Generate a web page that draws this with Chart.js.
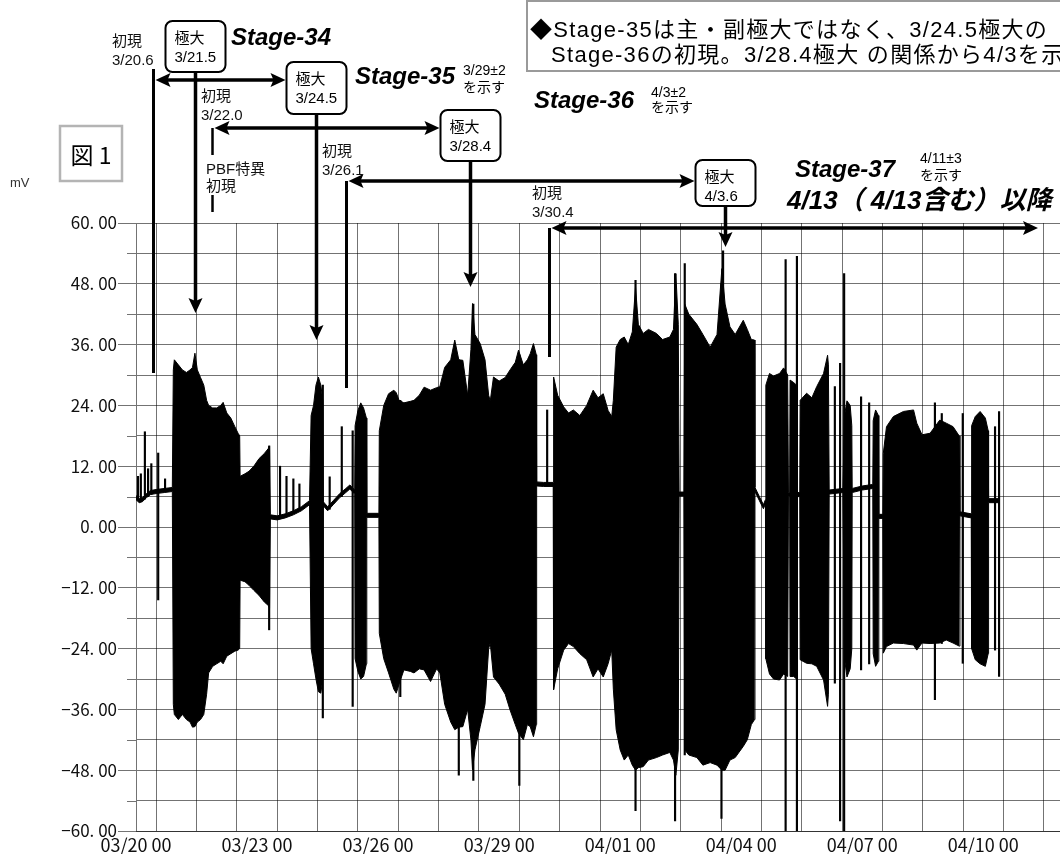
<!DOCTYPE html>
<html lang="ja">
<head>
  <meta charset="UTF-8" />
  <title>図1 Stage-34〜37</title>
  <script src="https://cdn.jsdelivr.net/npm/chart.js"></script>
  <style>
    html, body { margin: 0; padding: 0; background: #fff; }
    #wrap { width: 1060px; height: 854px; position: relative; }
  </style>
</head>
<body>
  <div id="wrap"><canvas id="chart"></canvas></div>

  <script>
    // 横軸は 03/20 00 からの経過日数、縦軸は mV
    // 信号の帯（上端・下端）
    const envDays = [
      0.00, 0.08, 0.16, 0.26, 0.36, 0.50, 0.70, 0.90,
      0.925, 0.95, 1.05, 1.15, 1.25, 1.34, 1.40, 1.46, 1.52, 1.60, 1.68, 1.75, 1.80, 1.90, 2.00, 2.10, 2.16, 2.25, 2.35, 2.45, 2.53, 2.57,
      2.58, 2.70, 2.80, 2.92, 3.05, 3.18, 3.28, 3.31,
      3.33, 3.50, 3.70, 3.90, 4.10, 4.30,
      4.34, 4.40, 4.46, 4.52, 4.58, 4.63,
      4.64, 4.75, 4.90, 5.05, 5.20, 5.30, 5.42,
      5.43, 5.50, 5.57, 5.64, 5.71,
      5.72, 6.02,
      6.03, 6.14, 6.26, 6.39, 6.45, 6.52, 6.64, 6.80, 6.89, 7.02, 7.14, 7.30, 7.45, 7.53, 7.65, 7.80, 7.90,
      8.00, 8.10, 8.22, 8.30, 8.34, 8.40, 8.53, 8.65, 8.74, 8.78, 8.86, 9.00, 9.15, 9.27, 9.40, 9.48, 9.60, 9.70, 9.77, 9.85, 9.92,
      9.93, 10.10, 10.34,
      10.35, 10.45, 10.60, 10.72, 10.84, 11.00, 11.17, 11.33, 11.45, 11.58, 11.70, 11.79, 11.83,
      11.90, 12.00, 12.10, 12.20, 12.30, 12.38, 12.45, 12.57, 12.70, 12.90, 13.05, 13.23, 13.32, 13.38, 13.44,
      13.46, 13.58,
      13.60, 13.70, 13.90, 14.05, 14.23, 14.40, 14.52, 14.60, 14.72, 14.85, 15.05, 15.15, 15.25, 15.33,
      15.34, 15.45, 15.55, 15.60,
      15.61, 15.70, 15.80, 15.95, 16.05, 16.15,
      16.17, 16.20,
      16.21, 16.30, 16.37,
      16.38, 16.45,
      16.46, 16.62, 16.75, 16.87, 17.04, 17.14, 17.16,
      17.18, 17.52,
      17.56, 17.62, 17.70, 17.74,
      17.75, 18.00, 18.26,
      18.27, 18.33, 18.40,
      18.41, 18.51,
      18.52, 18.60, 18.77, 19.02, 19.27, 19.35, 19.48, 19.68, 19.92, 20.08, 20.25, 20.40,
      20.42, 20.70,
      20.71, 20.80, 20.92, 21.05, 21.12,
      21.13, 21.39
    ];
    const envHigh = [
      6.2, 5.6, 5.8, 6.6, 7.2, 7.4, 7.6, 7.8,
      31, 33, 32, 31, 30.5, 31, 31.5, 34.3, 31, 29.5, 28, 25, 24, 23.5, 23.5, 24, 24.6, 22.5, 21.5, 19.8, 18.5, 18,
      10, 10.5, 11, 12, 13.5, 14.5, 15.5, 16,
      2.4, 2.2, 2.6, 3.2, 4.0, 5.2,
      22, 24, 28, 29.6, 28, 25,
      5.0, 4.0, 5.3, 6.6, 7.6, 8.3, 7.3,
      20, 23, 24.5, 23.5, 21.5,
      2.7, 2.7,
      19, 24, 26.3, 27, 26.5, 25, 24.5, 24.8, 25, 26, 27.6, 27, 27.5, 27.7, 31.5, 33, 36.9,
      33, 32.9, 26, 35, 44.1, 38, 36.2, 33, 26, 24.9, 29.6, 28.8, 29.5, 31, 32.5, 34.9, 32, 33, 34.2, 36.2, 34,
      8.9, 8.8, 8.8,
      29.6, 26, 23.7, 22.5, 23.1, 22, 24, 27, 25.5, 26.3, 23, 21.8, 25,
      35.5, 37, 37.5, 36, 38.5, 47.4, 40, 38.2, 39, 38.2, 37, 37.5, 39, 50, 40,
      6.9, 6.9,
      44, 42, 40, 38, 35.5, 38, 51, 44, 39.5, 38, 40.8, 39, 37, 36.9,
      7.8, 6.0, 4.4, 5.4,
      28, 30.3, 29.8, 30.3, 31.4, 30,
      6.8, 6.8,
      29, 28.5, 28,
      6.8, 6.8,
      25, 26.4, 25.5, 27.7, 30.3, 33.9, 32,
      7.3, 7.6,
      22, 24.9, 24, 20,
      7.6, 8.1, 8.4,
      21, 23.1, 22,
      2.5, 2.5,
      14.5, 19.8, 21.8, 22.8, 23.1, 20.5, 18.2, 18.5, 21.1, 20.5, 19.8, 18,
      3.0, 2.6,
      20, 21.8, 22.8, 21.5, 19,
      5.6, 5.6
    ];
    const envLow = [
      5.4, 4.8, 5.0, 5.8, 6.4, 6.6, 6.8, 7.0,
      -35, -37, -38, -37, -38, -38.5, -39.5, -39.4, -38.5, -38, -37, -33, -28.8, -27.5, -27, -26.5, -27, -25.5, -25, -24.5, -24.3, -24,
      -10.5, -10.8, -11.5, -12.5, -13.5, -14.8, -15.5, -16,
      1.6, 1.4, 1.8, 2.4, 3.2, 4.4,
      -24, -27, -30, -32.5, -32.8, -30,
      4.2, 3.2, 4.5, 5.8, 6.8, 7.5, 6.5,
      -26, -28.5, -30, -29.5, -27,
      1.9, 1.9,
      -21, -26, -28.8, -32, -32.8, -31, -28.2, -28.5, -28.8, -28, -28.2, -30.5, -28, -28.8, -35, -38.5, -40,
      -39.5, -39.4, -36, -42, -47.9, -44, -39.4, -35, -24, -22.9, -29.6, -31, -33, -36.1, -39, -40.7, -42, -39, -39.4, -41.4, -39,
      8.1, 8.0, 8.0,
      -32.1, -28, -24.3, -23, -23.6, -25, -26.2, -29.6, -28, -29.6, -27, -24.3, -32,
      -40, -44, -46, -45, -47, -48, -47.5, -47.3, -46, -45.5, -45, -44.5, -46, -49, -44,
      6.1, 6.1,
      -44, -45, -45.5, -47, -46.5, -47, -48, -48, -46, -45.5, -43.3, -42, -39, -38,
      7, 5.2, 3.6, 4.6,
      -26, -29, -30, -30.2, -29, -29.5,
      6, 6,
      -29.5, -29.5, -30,
      6, 6,
      -26.2, -26.9, -27, -27.5, -30.2, -35.4, -33,
      6.5, 6.8,
      -26, -29.6, -28, -24,
      6.8, 7.3, 7.6,
      -25, -27.5, -26.5,
      1.7, 1.7,
      -24.9, -23.6, -22.9, -23, -23.3, -24.3, -22.9, -23, -22.9, -22.3, -22.9, -23.5,
      2.2, 1.8,
      -24, -26.2, -27, -27.5, -25,
      4.8, 4.8
    ];

    // 細いスパイク（縦線）
    const spikeDays = [0.05, 0.12, 0.22, 0.30, 0.38, 0.55, 0.72, 3.30, 3.57, 3.73, 3.90, 4.05, 4.63, 4.80, 5.10, 5.37, 6.55,
      8.00, 8.36, 9.50, 10.19, 12.38, 13.36, 13.60, 14.51, 14.55, 16.10, 16.38, 17.32, 17.45, 17.55, 17.97, 18.17,
      19.80, 19.97, 20.49, 21.29, 21.39];
    const spikeHigh = [10, 10.5, 18.8, 11.5, 12.5, 14.6, 9.5, 16, 12, 10, 9.5, 8.5, 28, 9.9, 19.8, 19, 25,
      33, 44, 34, 23.1, 48.7, 50, 52, 48, 54.5, 52.8, 53.4, 27.7, 32.3, 50, 25.7, 24.5,
      24.5, 22.4, 22.4, 19.8, 22.8];
    const spikeLow = [5.5, 5.5, 5.5, 6, 6.5, -14.4, 7, -20.3, 2, 2.5, 3, 3.5, -37.7, 3.5, 6, -35.4, -33.5,
      -49, -50, -51, 8.5, -56, -58, -45, -57.5, -47, -60, -60, -30.8, -58, -60, -28.2, -27,
      -34.1, -23, -26.9, -24.3, -29.5];

    // 目盛り
    const dayTicks = [0, 1, 2, 3, 4, 5, 6, 7, 8, 9, 10, 11, 12, 13, 14, 15, 16, 17, 18, 19, 20, 21, 22];
    const dateLabels = ["03/20 00", "03/23 00", "03/26 00", "03/29 00", "04/01 00", "04/04 00", "04/07 00", "04/10 00"];
    const mvTicks = [-60, -54, -48, -42, -36, -30, -24, -18, -12, -6, 0, 6, 12, 18, 24, 30, 36, 42, 48, 54, 60];
    const xMax = 22.9;

    // 注記（初現・極大の日付）
    const firstDays = [0.42, 1.88, 5.2, 10.24];
    const firstText = ["3/20.6", "3/22.0", "3/26.1", "3/30.4"];
    const peakDays = [1.46, 4.46, 8.28, 14.6];
    const peakText = ["3/21.5", "3/24.5", "3/28.4", "4/3.6"];

    const gridColor = "rgba(0,0,0,0.55)";
    const sans = "'Liberation Sans', 'Noto Sans CJK JP', sans-serif";
    const jp = "'Noto Sans CJK JP', sans-serif";

    function fmtMv(v) {
      const s = Math.abs(v).toFixed(2).replace(".", ". ");
      return v < 0 ? "−" + s : s;
    }

    function roundBox(ctx, x, y, w, h, r) {
      ctx.beginPath();
      ctx.moveTo(x + r, y);
      ctx.arcTo(x + w, y, x + w, y + h, r);
      ctx.arcTo(x + w, y + h, x, y + h, r);
      ctx.arcTo(x, y + h, x, y, r);
      ctx.arcTo(x, y, x + w, y, r);
      ctx.closePath();
    }

    // 矢じり（先端が x,y）
    function head(ctx, x, y, dir) {
      const L = 15, W = 7, N = 3;
      ctx.beginPath();
      if (dir === "down") {
        ctx.moveTo(x, y); ctx.lineTo(x - W, y - L); ctx.lineTo(x, y - L + N); ctx.lineTo(x + W, y - L);
      } else if (dir === "left") {
        ctx.moveTo(x, y); ctx.lineTo(x + L, y - W); ctx.lineTo(x + L - N, y); ctx.lineTo(x + L, y + W);
      } else {
        ctx.moveTo(x, y); ctx.lineTo(x - L, y - W); ctx.lineTo(x - L + N, y); ctx.lineTo(x - L, y + W);
      }
      ctx.closePath();
      ctx.fill();
    }

    function line(ctx, x1, y1, x2, y2, w) {
      ctx.lineWidth = w;
      ctx.beginPath();
      ctx.moveTo(x1, y1);
      ctx.lineTo(x2, y2);
      ctx.stroke();
    }

    function text(ctx, s, x, y, font, spacing) {
      ctx.font = font;
      ctx.letterSpacing = spacing || "0px";
      ctx.fillText(s, x, y);
      ctx.letterSpacing = "0px";
    }

    const notes = {
      id: "notes",
      afterDraw(chart) {
        const ctx = chart.ctx;
        const area = chart.chartArea;
        const xs = chart.scales.x;
        const ys = chart.scales.y;
        const px = d => Math.round(xs.getPixelForValue(d)) + 0.5;

        ctx.save();
        // 副目盛りの短いひげ
        ctx.strokeStyle = gridColor;
        mvTicks.filter(v => v % 12 !== 0).forEach(v => {
          const y = Math.round(ys.getPixelForValue(v)) + 0.5;
          line(ctx, area.left - 9, y, area.left, y, 1);
        });

        ctx.textBaseline = "alphabetic";

        // 説明ボックス
        ctx.fillStyle = "#fff";
        ctx.fillRect(527, 1, 540, 70);
        ctx.strokeStyle = "#9a9a9a";
        ctx.lineWidth = 2;
        ctx.strokeRect(527, 1, 540, 70);
        ctx.fillStyle = "#000";
        text(ctx, "◆Stage-35は主・副極大ではなく、3/24.5極大の", 530, 37, "22px " + sans, "1.3px");
        text(ctx, "Stage-36の初現。3/28.4極大 の関係から4/3を示す", 551, 62, "22px " + sans, "1.3px");

        // 図1
        ctx.strokeStyle = "#b4b4b4";
        ctx.lineWidth = 2.5;
        ctx.strokeRect(60, 126, 62, 55);
        ctx.textAlign = "center";
        text(ctx, "図 1", 91, 164, "23px " + jp);
        ctx.textAlign = "left";
        ctx.fillStyle = "#333";
        text(ctx, "mV", 10, 187, "13px " + sans);

        ctx.fillStyle = "#000";
        ctx.strokeStyle = "#000";

        // 初現の縦線
        const fx = firstDays.map(px);
        const fTop = [69, 128, 181, 228];
        const fBottom = [373, 212, 388, 357];
        line(ctx, fx[0], fTop[0], fx[0], fBottom[0], 3);
        line(ctx, fx[1], fTop[1], fx[1], 155, 2.5);
        line(ctx, fx[1], 195, fx[1], fBottom[1], 2.5);
        line(ctx, fx[2], fTop[2], fx[2], fBottom[2], 3);
        line(ctx, fx[3], fTop[3], fx[3], fBottom[3], 3);

        const bx = peakDays.map(px);
        const boxTop = [21, 62, 110, 160];
        const boxH = [51, 52, 51, 46];
        const tips = [313, 340, 287, 247];

        // 横矢印: 初現 → 次の極大
        const arrows = [
          [fx[0] + 2, bx[1] - 31, 80],
          [fx[1] + 2, bx[2] - 31, 128],
          [fx[2] + 2, bx[3] - 31, 181],
          [fx[3] + 2, 1038, 228]
        ];
        arrows.forEach(a => {
          line(ctx, a[0] + 10, a[2], a[1] - 10, a[2], 3.5);
          head(ctx, a[0], a[2], "left");
          head(ctx, a[1], a[2], "right");
        });

        // 極大ボックスと下向き矢印
        peakDays.forEach((d, i) => {
          const x = bx[i];
          line(ctx, x, boxTop[i] + boxH[i], x, tips[i] - 10, 3.5);
          head(ctx, x, tips[i], "down");
          ctx.fillStyle = "#fff";
          roundBox(ctx, x - 30, boxTop[i], 60, boxH[i], 7);
          ctx.fill();
          ctx.lineWidth = 2;
          ctx.stroke();
          ctx.fillStyle = "#000";
          text(ctx, "極大", x - 21, boxTop[i] + 22, "15px " + sans);
          text(ctx, peakText[i], x - 21, boxTop[i] + 41, "15px " + sans);
        });

        // 初現ラベル
        ctx.fillStyle = "#111";
        const fLab = [[112, 46], [201, 101], [322, 156], [532, 198]];
        fLab.forEach((p, i) => {
          text(ctx, "初現", p[0], p[1], "15px " + sans);
          text(ctx, firstText[i], p[0], p[1] + 19, "15px " + sans);
        });
        text(ctx, "PBF特異", 206, 174, "15px " + sans);
        text(ctx, "初現", 206, 191, "15px " + sans);

        // Stage 見出し
        ctx.fillStyle = "#000";
        const stageFont = "italic bold 24px " + sans;
        text(ctx, "Stage-34", 231, 45, stageFont);
        text(ctx, "Stage-35", 355, 84, stageFont);
        text(ctx, "Stage-36", 534, 108, stageFont);
        text(ctx, "Stage-37", 795, 177, stageFont);
        const small = "14px " + sans;
        text(ctx, "3/29±2", 463, 75, small);
        text(ctx, "を示す", 463, 92, small);
        text(ctx, "4/3±2", 651, 97, small);
        text(ctx, "を示す", 651, 112, small);
        text(ctx, "4/11±3", 920, 163, small);
        text(ctx, "を示す", 920, 180, small);
        text(ctx, "4/13（ 4/13含む）以降", 787, 209, "italic bold 26px " + sans);

        ctx.restore();
      }
    };

    const ctx = document.getElementById("chart").getContext("2d");
    const chart = new Chart(ctx, {
      type: "line",
      data: {
        datasets: [
          {
            type: "line",
            label: "上端",
            data: envDays.map((d, i) => ({ x: d, y: envHigh[i] })),
            borderColor: "#000",
            backgroundColor: "#000",
            borderWidth: 1,
            pointRadius: 0,
            tension: 0,
            fill: "+1"
          },
          {
            type: "line",
            label: "下端",
            data: envDays.map((d, i) => ({ x: d, y: envLow[i] })),
            borderColor: "#000",
            borderWidth: 1,
            pointRadius: 0,
            tension: 0,
            fill: false
          },
          {
            type: "bar",
            label: "スパイク",
            data: spikeDays.map((d, i) => ({ x: d, y: [spikeLow[i], spikeHigh[i]] })),
            backgroundColor: "#000",
            barThickness: 1.5,
            grouped: false
          }
        ]
      },
      options: {
        responsive: true,
        maintainAspectRatio: false,
        animation: false,
        layout: { padding: { top: 223, right: 0, bottom: 0, left: 0 } },
        plugins: {
          legend: { display: false },
          tooltip: { enabled: false }
        },
        scales: {
          x: {
            type: "linear",
            min: 0,
            max: xMax,
            offset: false,
            afterBuildTicks: s => { s.ticks = dayTicks.map(v => ({ value: v })); },
            afterFit: s => { s.height = 23; },
            grid: { color: gridColor, lineWidth: 1, drawTicks: false },
            border: { color: gridColor },
            ticks: {
              autoSkip: false,
              maxRotation: 0,
              padding: 3,
              color: "#111",
              font: { family: jp, size: 18 },
              callback: v => (Number.isInteger(v) && v % 3 === 0) ? dateLabels[v / 3] : ""
            }
          },
          y: {
            min: -60,
            max: 60,
            afterBuildTicks: s => { s.ticks = mvTicks.map(v => ({ value: v })); },
            afterFit: s => { s.width = 136; },
            grid: {
              color: gridColor,
              lineWidth: 1,
              tickLength: 18,
              tickColor: c => (c.tick && c.tick.value % 12 === 0) ? gridColor : "rgba(0,0,0,0)"
            },
            border: { color: gridColor },
            ticks: {
              autoSkip: false,
              padding: 1,
              color: "#111",
              font: { family: jp, size: 17 },
              callback: v => v % 12 === 0 ? fmtMv(v) : ""
            }
          }
        }
      },
      plugins: [notes]
    });
  </script>
</body>
</html>
